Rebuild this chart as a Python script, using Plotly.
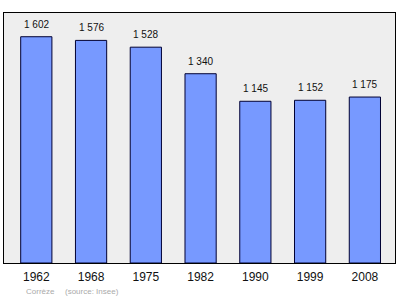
import plotly.graph_objects as go

years = ["1962", "1968", "1975", "1982", "1990", "1999", "2008"]
population = [1602, 1576, 1528, 1340, 1145, 1152, 1175]
value_labels = ["1 602", "1 576", "1 528", "1 340", "1 145", "1 152", "1 175"]
footer_place = "Corrèze"
footer_source = "(source: Insee)"

FONT = "Liberation Sans, Arial, sans-serif"

fig = go.Figure()
fig.add_trace(go.Bar(
    x=years, y=population, width=0.57,
    marker=dict(color="#7799ff", line=dict(color="#000033", width=1)),
    hoverinfo="skip",
))

for i, (v, lab) in enumerate(zip(population, value_labels)):
    fig.add_annotation(x=i, y=v, xref="x", yref="y", text=lab, showarrow=False,
                       yanchor="bottom", yshift=5,
                       font=dict(family=FONT, size=10, color="#111111"))

fig.add_annotation(xref="paper", yref="paper", x=(24-4)/391, y=(263-291)/250,
                   xanchor="left", yanchor="middle", text=footer_place, showarrow=False,
                   font=dict(family=FONT, size=8, color="#aaaaaa"))
fig.add_annotation(xref="paper", yref="paper", x=(63-4)/391, y=(263-291)/250,
                   xanchor="left", yanchor="middle", text=footer_source, showarrow=False,
                   font=dict(family=FONT, size=8, color="#aaaaaa"))

fig.update_layout(
    width=400, height=299,
    margin=dict(l=4, r=5, t=13, b=36, pad=0),
    paper_bgcolor="white", plot_bgcolor="#eeeeee",
    showlegend=False,
    xaxis=dict(type="category", range=[-0.59, 6.55], showline=True, mirror=True,
               linecolor="black", linewidth=1, ticks="", showgrid=False,
               tickfont=dict(family=FONT, size=12, color="#111111"), ticklabelstandoff=3),
    yaxis=dict(range=[0, 1770], showline=True, mirror=True, linecolor="black",
               linewidth=1, showticklabels=False, ticks="", showgrid=False, zeroline=False),
)

fig.write_html("out.html")
